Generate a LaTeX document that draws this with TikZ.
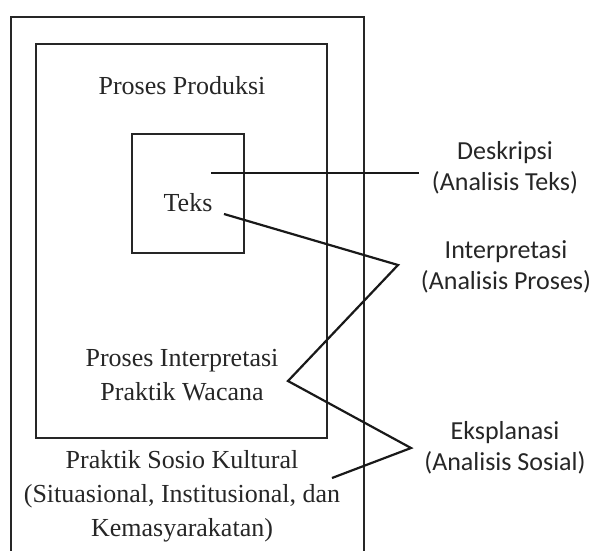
\documentclass[tikz,border=0pt]{standalone}
\usepackage{fontspec}
\setmainfont{Liberation Serif}
\newfontfamily\labelsans{Carlito}
\begin{document}
\begin{tikzpicture}[x=1pt,y=-1pt,
  boxline/.style={draw=black!85, line width=2.2pt},
  conn/.style={draw=black!90, line width=2.2pt, line join=miter},
  serif/.style={font=\fontsize{26}{34}\selectfont, align=center, inner sep=0pt, text=black!85},
  sans/.style={font=\labelsans\fontsize{26}{31}\selectfont, align=center, inner sep=0pt, text=black!85}]
\useasboundingbox (0,0) rectangle (595,550);
% boxes
\draw[boxline] (11,552) -- (11,17) -- (364,17) -- (364,552);
\draw[boxline] (36,44) rectangle (327,438);
\draw[boxline] (132,134) rectangle (244,253);
% texts
\node[serif] (prod) at (182,86) {Proses Produksi};
\node[serif] (teks) at (188,203) {Teks};
\node[serif] (interp) at (182,375) {Proses Interpretasi\\Praktik Wacana};
\node[serif] (sosio) at (182,496) {Praktik Sosio Kultural\\(Situasional, Institusional, dan\\Kemasyarakatan)};
\node[sans] (desk) at (505,168) {Deskripsi\\(Analisis Teks)};
\node[sans] (intp) at (506,267) {Interpretasi\\(Analisis Proses)};
\node[sans] (eksp) at (505,448) {Eksplanasi\\(Analisis Sosial)};
% connector points
\coordinate (d1) at (211,173);
\coordinate (d2) at (419,173);
\coordinate (i1) at (224,214);
\coordinate (i2) at (398,265);
\coordinate (z) at (288,381);
\coordinate (e2) at (411,448);
\coordinate (e1) at (332,478);
\draw[conn] (d1) -- (d2);
\draw[conn] (i1) -- (i2) -- (z) -- (e2) -- (e1);
\end{tikzpicture}
\end{document}
